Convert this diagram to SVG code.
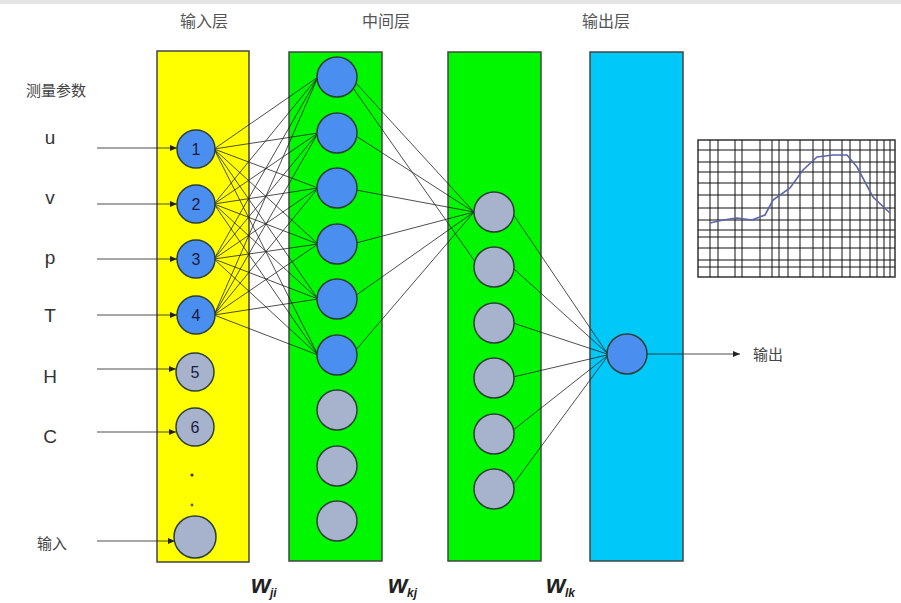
<svg xmlns="http://www.w3.org/2000/svg" width="901" height="603" viewBox="0 0 901 603">
<defs>
<style>
.txt{font-family:"Liberation Sans","Noto Sans CJK SC",sans-serif;}
.title{font-size:16px;fill:#555;text-anchor:middle;}
.var{font-size:19px;fill:#333;text-anchor:middle;}
.num{font-size:16px;fill:#1a1a40;text-anchor:middle;}
.w{font-size:25px;font-weight:bold;font-style:italic;fill:#222;}
.sub{font-size:12px;font-weight:bold;font-style:italic;fill:#222;}
.layer{stroke:#444;stroke-width:1.5;}
.blue{fill:#4a8ff0;stroke:#2d3f36;stroke-width:1.5;}
.gray{fill:#a7b3cc;stroke:#2d3f36;stroke-width:1.5;}
.conn line{stroke:#222;stroke-width:0.8;}
.inarrow{stroke:#222;stroke-width:1.2;}
.grid line{stroke:#111;stroke-width:1;}
</style>
<marker id="ah" markerWidth="8" markerHeight="8" refX="7" refY="4" orient="auto" markerUnits="userSpaceOnUse">
<path d="M0,1 L7,4 L0,7 Z" fill="#222"/>
</marker>
</defs>
<rect width="901" height="603" fill="#fff"/>
<rect x="0" y="0" width="901" height="4" fill="#e4e4e4"/>

<!-- titles -->
<text class="txt title" x="204" y="27">输入层</text>
<text class="txt title" x="386" y="27">中间层</text>
<text class="txt title" x="606" y="27">输出层</text>
<text class="txt" x="56" y="96" font-size="15" fill="#444" text-anchor="middle">测量参数</text>

<!-- layers -->
<g id="layer-input"><rect class="layer" x="157" y="51" width="92" height="511" fill="#ffff00"/></g>
<g id="layer-hidden1"><rect class="layer" x="289" y="52" width="93" height="509" fill="#00f700"/></g>
<g id="layer-hidden2"><rect class="layer" x="448" y="52" width="93" height="509" fill="#00f700"/></g>
<g id="layer-output"><rect class="layer" x="590" y="52" width="93" height="509" fill="#00c8f8"/></g>

<!-- connectors -->
<g id="connectors" class="conn">
<line class="inarrow" x1="97" y1="148" x2="177" y2="148" marker-end="url(#ah)"/>
<line class="inarrow" x1="97" y1="204" x2="177" y2="204" marker-end="url(#ah)"/>
<line class="inarrow" x1="97" y1="259" x2="177" y2="259" marker-end="url(#ah)"/>
<line class="inarrow" x1="97" y1="315" x2="177" y2="315" marker-end="url(#ah)"/>
<line class="inarrow" x1="97" y1="369" x2="176" y2="369" marker-end="url(#ah)"/>
<line class="inarrow" x1="97" y1="432" x2="176" y2="432" marker-end="url(#ah)"/>
<line class="inarrow" x1="97" y1="541" x2="175" y2="541" marker-end="url(#ah)"/>
<line x1="214" y1="149" x2="318" y2="77"/><line x1="214" y1="149" x2="318" y2="133"/><line x1="214" y1="149" x2="318" y2="188"/><line x1="214" y1="149" x2="318" y2="244"/><line x1="214" y1="149" x2="318" y2="299"/><line x1="214" y1="149" x2="318" y2="355"/>
<line x1="214" y1="204" x2="318" y2="77"/><line x1="214" y1="204" x2="318" y2="133"/><line x1="214" y1="204" x2="318" y2="188"/><line x1="214" y1="204" x2="318" y2="244"/><line x1="214" y1="204" x2="318" y2="299"/><line x1="214" y1="204" x2="318" y2="355"/>
<line x1="214" y1="259" x2="318" y2="77"/><line x1="214" y1="259" x2="318" y2="133"/><line x1="214" y1="259" x2="318" y2="188"/><line x1="214" y1="259" x2="318" y2="244"/><line x1="214" y1="259" x2="318" y2="299"/><line x1="214" y1="259" x2="318" y2="355"/>
<line x1="214" y1="315" x2="318" y2="77"/><line x1="214" y1="315" x2="318" y2="133"/><line x1="214" y1="315" x2="318" y2="188"/><line x1="214" y1="315" x2="318" y2="244"/><line x1="214" y1="315" x2="318" y2="299"/><line x1="214" y1="315" x2="318" y2="355"/>
<line x1="355" y1="82" x2="474" y2="212"/>
<line x1="356" y1="136" x2="474" y2="212"/>
<line x1="356" y1="190" x2="474" y2="212"/>
<line x1="356" y1="243" x2="474" y2="212"/>
<line x1="355" y1="296" x2="474" y2="212"/>
<line x1="355" y1="351" x2="474" y2="212"/>
<line x1="353" y1="88" x2="476" y2="263"/>
<line x1="513" y1="214" x2="607" y2="353"/>
<line x1="513" y1="268" x2="607" y2="353"/>
<line x1="513" y1="323" x2="607" y2="354"/>
<line x1="513" y1="377" x2="607" y2="355"/>
<line x1="512" y1="431" x2="607" y2="356"/>
<line x1="512" y1="486" x2="607" y2="357"/>
<line class="inarrow" x1="647" y1="354" x2="740" y2="354" marker-end="url(#ah)"/>
</g>

<!-- input labels -->
<text class="txt var" x="50" y="144">u</text>
<text class="txt var" x="50" y="204">v</text>
<text class="txt var" x="50" y="264">p</text>
<text class="txt var" x="50" y="322">T</text>
<text class="txt var" x="50" y="383">H</text>
<text class="txt var" x="50" y="443">C</text>
<text class="txt" x="52" y="549" font-size="15" fill="#444" text-anchor="middle">输入</text>

<!-- input nodes -->
<g id="in1"><circle class="blue" cx="196" cy="149" r="19"/><text class="txt num" x="196" y="155">1</text></g>
<g id="in2"><circle class="blue" cx="196" cy="204" r="19"/><text class="txt num" x="196" y="210">2</text></g>
<g id="in3"><circle class="blue" cx="196" cy="259" r="19"/><text class="txt num" x="196" y="265">3</text></g>
<g id="in4"><circle class="blue" cx="196" cy="315" r="19"/><text class="txt num" x="196" y="321">4</text></g>
<g id="in5"><circle class="gray" cx="195" cy="372" r="19"/><text class="txt num" x="195" y="378">5</text></g>
<g id="in6"><circle class="gray" cx="195" cy="427" r="19"/><text class="txt num" x="195" y="433">6</text></g>
<g id="in-dots"><circle cx="192" cy="475" r="1.6" fill="#333"/><circle cx="192" cy="505" r="1.4" fill="#555"/></g>
<g id="in-n"><circle class="gray" cx="195" cy="537" r="21"/></g>

<!-- hidden layer 1 -->
<g id="h1"><circle class="blue" cx="337" cy="77" r="20"/></g>
<g id="h2"><circle class="blue" cx="337" cy="133" r="20"/></g>
<g id="h3"><circle class="blue" cx="337" cy="188" r="20"/></g>
<g id="h4"><circle class="blue" cx="337" cy="244" r="20"/></g>
<g id="h5"><circle class="blue" cx="337" cy="299" r="20"/></g>
<g id="h6"><circle class="blue" cx="337" cy="355" r="20"/></g>
<g id="h7"><circle class="gray" cx="337" cy="410" r="20"/></g>
<g id="h8"><circle class="gray" cx="337" cy="466" r="20"/></g>
<g id="h9"><circle class="gray" cx="337" cy="521" r="20"/></g>

<!-- hidden layer 2 -->
<g id="k1"><circle class="gray" cx="494" cy="212" r="20"/></g>
<g id="k2"><circle class="gray" cx="494" cy="267" r="20"/></g>
<g id="k3"><circle class="gray" cx="494" cy="323" r="20"/></g>
<g id="k4"><circle class="gray" cx="494" cy="378" r="20"/></g>
<g id="k5"><circle class="gray" cx="494" cy="434" r="20"/></g>
<g id="k6"><circle class="gray" cx="494" cy="489" r="20"/></g>

<!-- output node -->
<g id="out1"><circle class="blue" cx="627" cy="354" r="20"/></g>
<text class="txt" x="768" y="360" font-size="15" fill="#444" text-anchor="middle">输出</text>

<!-- chart -->
<g id="chart">
<rect x="698" y="140" width="197" height="137" fill="#fff" stroke="#333" stroke-width="1.5"/>
<g class="grid">
<line x1="710" y1="140" x2="710" y2="277"/><line x1="718" y1="140" x2="718" y2="277"/>
<line x1="735" y1="140" x2="735" y2="277"/><line x1="742" y1="140" x2="742" y2="277"/>
<line x1="760" y1="140" x2="760" y2="277"/><line x1="772" y1="140" x2="772" y2="277"/>
<line x1="779" y1="140" x2="779" y2="277"/><line x1="788" y1="140" x2="788" y2="277"/>
<line x1="800" y1="140" x2="800" y2="277"/><line x1="813" y1="140" x2="813" y2="277"/>
<line x1="823" y1="140" x2="823" y2="277"/><line x1="830" y1="140" x2="830" y2="277"/>
<line x1="842" y1="140" x2="842" y2="277"/><line x1="850" y1="140" x2="850" y2="277"/>
<line x1="860" y1="140" x2="860" y2="277"/><line x1="870" y1="140" x2="870" y2="277"/>
<line x1="877" y1="140" x2="877" y2="277"/><line x1="884" y1="140" x2="884" y2="277"/>
<line x1="890" y1="140" x2="890" y2="277"/>
<line x1="698" y1="150" x2="895" y2="150"/><line x1="698" y1="162" x2="895" y2="162"/>
<line x1="698" y1="172" x2="895" y2="172"/><line x1="698" y1="183" x2="895" y2="183"/>
<line x1="698" y1="195" x2="895" y2="195"/><line x1="698" y1="208" x2="895" y2="208"/>
<line x1="698" y1="220" x2="895" y2="220"/><line x1="698" y1="230" x2="895" y2="230"/>
<line x1="698" y1="237" x2="895" y2="237"/><line x1="698" y1="248" x2="895" y2="248"/>
<line x1="698" y1="260" x2="895" y2="260"/><line x1="698" y1="267" x2="895" y2="267"/>
</g>
<polyline points="710,223 723,220 737,218 752,220 765,215 773,200 790,188 803,170 817,157 833,155 847,155 857,167 873,197 890,213" fill="none" stroke="#5a66a8" stroke-width="1.6"/>
</g>

<!-- weights -->
<g id="w-ji"><text class="txt w" x="251" y="593">w</text><text class="txt sub" x="270" y="597">ji</text></g>
<g id="w-kj"><text class="txt w" x="388" y="593">w</text><text class="txt sub" x="407" y="597">kj</text></g>
<g id="w-lk"><text class="txt w" x="546" y="593">w</text><text class="txt sub" x="565" y="597">lk</text></g>
</svg>
